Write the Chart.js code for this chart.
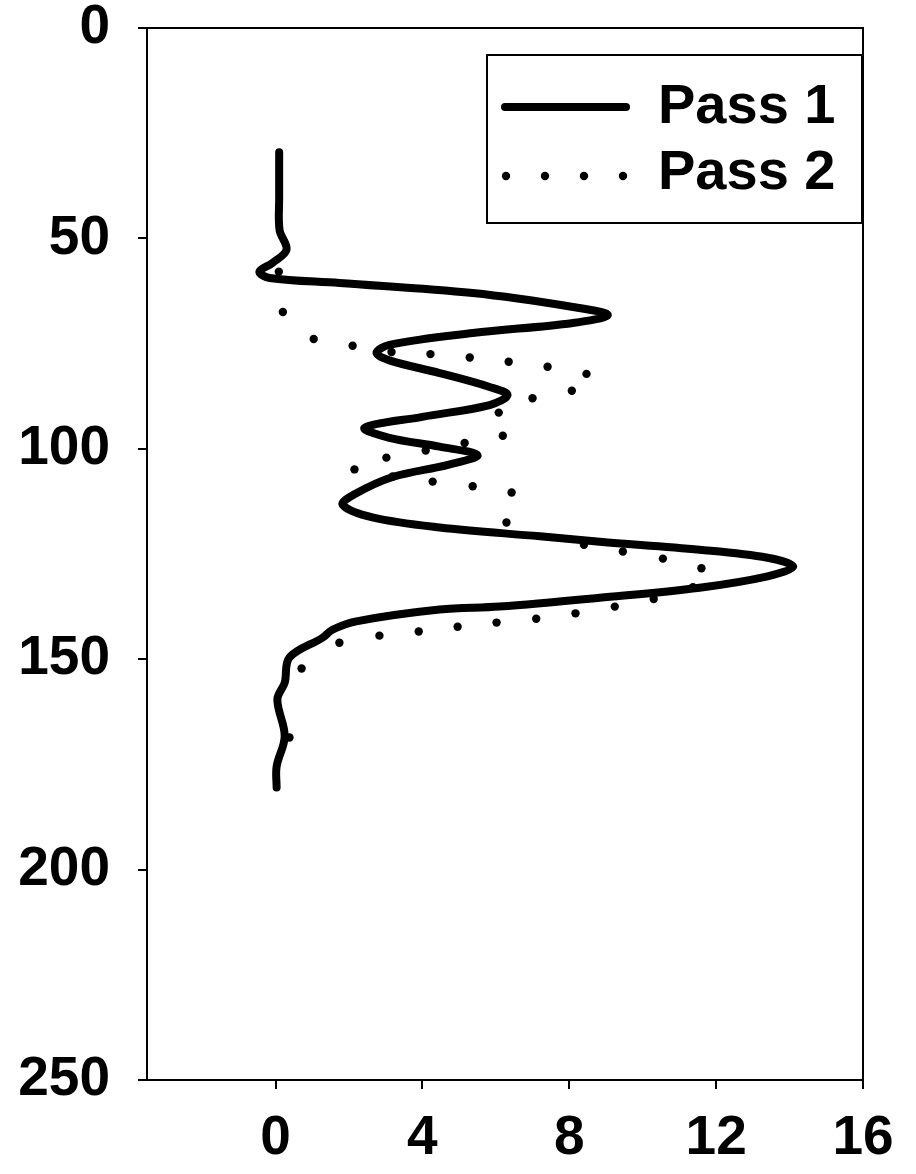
<!DOCTYPE html>
<html>
<head>
<meta charset="utf-8">
<script src="https://cdn.jsdelivr.net/npm/chart.js@4.4.1/dist/chart.umd.min.js"></script>
<style>
  html, body { margin: 0; padding: 0; background: #fff; }
  canvas { display: block; }
</style>
</head>
<body>
<canvas id="chart" width="916" height="1174"></canvas>
<script>
// Pass 1 (trait plein) : valeur x et profondeur
const pass1X = [0.1, 0.1, 0.11, 0.3, -0.08, -0.44, -0.16, 1.74, 5.37, 8.1, 9.05, 8.1, 5.37, 3.1, 2.75, 3.1,
  4.47, 5.83, 6.32, 5.83, 4.0, 2.43, 3.1, 4.47, 5.5, 4.7, 3.19, 2.15, 1.83, 2.64, 4.47, 7.2, 8.83, 11.55,
  13.4, 14.1, 13.4, 11.55, 8.83, 6.1, 4.47, 2.2, 1.55, 1.28, 0.38, 0.25, 0.05, 0.25, 0.03, 0.03];
const pass1Depth = [29.5, 40, 48, 52.7, 55.8, 57.9, 59.4, 60.6, 63.0, 66.3, 68.2, 70.1, 72.5, 75.3, 77.2, 79,
  82, 85.3, 87.2, 89.6, 92.4, 95, 97.4, 99.5, 101.5, 103.8, 106.7, 110.8, 113.3, 116.3, 118.7, 120.8, 122.1, 124,
  125.9, 128, 130.3, 133, 135.4, 137.5, 138.2, 141, 143, 144.9, 149.6, 155.6, 159.6, 168.3, 175.5, 180.5];

// Pass 2 (pointillé) : les points
const pass2X = [0.09, 0.2, 1.04, 2.1, 3.16, 4.22, 5.29, 6.35, 7.41, 8.47, 8.07, 7.0, 6.08, 6.19, 5.15, 4.09,
  3.02, 2.15, 3.19, 4.28, 5.37, 6.43, 6.29, 8.4, 9.46, 10.55, 11.6, 11.37, 10.3, 9.24, 8.17, 7.1, 6.02, 4.96,
  3.9, 2.83, 1.74, 0.71, 0.38];
const pass2Depth = [57.9, 67.5, 73.9, 75.5, 77, 77.5, 78.3, 79.3, 80.5, 82.2, 86.2, 88, 91.4, 96.9, 98.6, 100.4,
  102.1, 104.9, 106.6, 107.8, 108.9, 110.4, 117.5, 122.8, 124.4, 126.1, 128.4, 132.9, 135.7, 137.5, 139.1, 140.4, 141.3, 142.3,
  143.4, 144.4, 146.1, 152.2, 168.6];

const seriesNames = ['Pass 1', 'Pass 2'];
const xTicks = [0, 4, 8, 12, 16];
const yTicks = [0, 50, 100, 150, 200, 250];

const FONT = "'Liberation Sans', Arial, Helvetica, sans-serif";

function toPoints(xs, ys) {
  return xs.map((x, i) => ({ x: x, y: ys[i] }));
}

// Cadre complet autour de la zone de tracé
const frame = {
  id: 'frame',
  afterDraw(chart) {
    const a = chart.chartArea;
    const ctx = chart.ctx;
    ctx.save();
    ctx.strokeStyle = '#000';
    ctx.lineWidth = 2;
    ctx.strokeRect(a.left, a.top, a.right - a.left, a.bottom - a.top);
    ctx.restore();
  }
};

// Légende encadrée en haut à droite
const boxLegend = {
  id: 'boxLegend',
  afterDraw(chart) {
    const ctx = chart.ctx;
    const ds = chart.data.datasets;
    const left = 487, top = 55, right = 862, bottom = 223;
    ctx.save();
    ctx.fillStyle = '#fff';
    ctx.fillRect(left, top, right - left, bottom - top);
    ctx.strokeStyle = '#000';
    ctx.lineWidth = 2;
    ctx.strokeRect(left, top, right - left, bottom - top);

    // ligne pleine
    ctx.lineWidth = 8;
    ctx.lineCap = 'round';
    ctx.beginPath();
    ctx.moveTo(505, 107);
    ctx.lineTo(626, 107);
    ctx.stroke();

    // points
    ctx.fillStyle = '#000';
    [506, 545, 584, 623].forEach(x => {
      ctx.beginPath();
      ctx.arc(x, 176, 4.2, 0, Math.PI * 2);
      ctx.fill();
    });

    ctx.font = 'bold 56px ' + FONT;
    ctx.textBaseline = 'middle';
    ctx.textAlign = 'left';
    ctx.fillText(ds[0].label, 658, 108);
    ctx.fillText(ds[1].label, 658, 174);
    ctx.restore();
  }
};

const tickFont = { family: FONT, size: 55, weight: 'bold', lineHeight: 1 };

new Chart(document.getElementById('chart'), {
  type: 'scatter',
  data: {
    datasets: [
      {
        label: seriesNames[0],
        data: toPoints(pass1X, pass1Depth),
        showLine: true,
        borderColor: '#000',
        borderWidth: 8,
        tension: 0.35,
        pointRadius: 0,
        borderCapStyle: 'round',
        borderJoinStyle: 'round'
      },
      {
        label: seriesNames[1],
        data: toPoints(pass2X, pass2Depth),
        showLine: false,
        pointRadius: 4.2,
        pointBackgroundColor: '#000',
        pointBorderWidth: 0
      }
    ]
  },
  options: {
    responsive: false,
    animation: false,
    devicePixelRatio: 1,
    layout: { padding: { left: 0, right: 53, top: 28, bottom: 0 } },
    plugins: {
      legend: { display: false },
      tooltip: { enabled: false }
    },
    scales: {
      x: {
        type: 'linear',
        min: -3.5,
        max: 16,
        afterBuildTicks: s => { s.ticks = xTicks.map(v => ({ value: v })); },
        afterFit: s => { s.height = 94; s.paddingLeft = 0; s.paddingRight = 0; },
        ticks: { font: tickFont, color: '#000', padding: 22, maxRotation: 0, autoSkip: false },
        grid: { drawOnChartArea: false, drawTicks: true, tickLength: 9, color: '#000', lineWidth: 2 },
        border: { display: true, color: '#000', width: 2 }
      },
      y: {
        type: 'linear',
        reverse: true,
        min: 0,
        max: 250,
        afterBuildTicks: s => { s.ticks = yTicks.map(v => ({ value: v })); },
        afterFit: s => { s.width = 147; s.paddingTop = 0; s.paddingBottom = 0; },
        ticks: { font: tickFont, color: '#000', padding: 28, autoSkip: false },
        grid: { drawOnChartArea: false, drawTicks: true, tickLength: 9, color: '#000', lineWidth: 2 },
        border: { display: true, color: '#000', width: 2 }
      }
    }
  },
  plugins: [frame, boxLegend]
});
</script>
</body>
</html>
